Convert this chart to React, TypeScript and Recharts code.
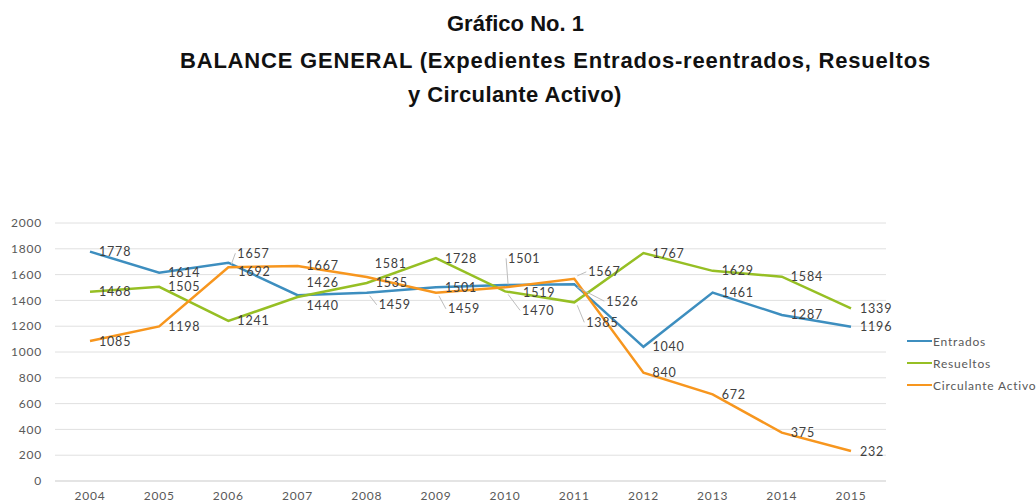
import { LineChart, Line, XAxis, YAxis, CartesianGrid, LabelList } from "recharts";

const years = ["2004", "2005", "2006", "2007", "2008", "2009", "2010", "2011", "2012", "2013", "2014", "2015"];
const entrados = [1778, 1614, 1692, 1440, 1459, 1501, 1519, 1526, 1040, 1461, 1287, 1196];
const resueltos = [1468, 1505, 1241, 1426, 1535, 1728, 1470, 1385, 1767, 1629, 1584, 1339];
const circulante = [1085, 1198, 1657, 1667, 1581, 1459, 1501, 1567, 840, 672, 375, 232];
const yTicks = [0, 200, 400, 600, 800, 1000, 1200, 1400, 1600, 1800, 2000];

const data = years.map((year, i) => ({
  year,
  entrados: entrados[i],
  resueltos: resueltos[i],
  circulante: circulante[i],
}));

// label placement tweaks: index -> [dx, dy, leader line?]
type Offs = Record<number, [number, number, boolean?]>;
const series = [
  {
    key: "entrados",
    name: "Entrados",
    color: "#3d8ebf",
    offs: { 2: [10, 9], 3: [9, 10], 4: [12, 12, true], 6: [18, 7], 7: [32, 17, true] } as Offs,
  },
  {
    key: "resueltos",
    name: "Resueltos",
    color: "#96bf24",
    offs: { 3: [9, -15], 6: [17, 19, true], 7: [12, 20, true] } as Offs,
  },
  {
    key: "circulante",
    name: "Circulante Activo",
    color: "#f7961e",
    offs: { 2: [9, -14, true], 4: [8, -14], 5: [12, 16, true], 6: [3, -29, true], 7: [14, -7, true] } as Offs,
  },
];

const font = "Lato, 'Open Sans', sans-serif";

function makeLabel(offs: Offs) {
  return (props: any) => {
    const { x, y, value, index } = props;
    const [dx, dy, leader] = offs[index] ?? [9, 0, false];
    return (
      <g>
        {leader && (
          <line x1={x + 3} y1={y + Math.sign(dy) * 3} x2={x + dx - 2} y2={y + dy} stroke="#bdbdbd" strokeWidth={1} />
        )}
        <text
          x={x + dx}
          y={y + dy}
          dominantBaseline="central"
          fontSize={12.5}
          fontFamily={font}
          letterSpacing={0.8}
          fill="#404040"
        >
          {value}
        </text>
      </g>
    );
  };
}

const titleStyle: React.CSSProperties = {
  position: "absolute",
  fontFamily: "'Liberation Sans', Arial, sans-serif",
  fontWeight: "bold",
  fontSize: 22,
  color: "#111",
  whiteSpace: "nowrap",
  lineHeight: 1,
};

export default function App() {
  return (
    <div style={{ position: "absolute", left: 0, top: 0, width: 1036, height: 502, background: "#fff", overflow: "hidden" }}>
      <div style={{ ...titleStyle, left: 447, top: 13 }}>Gráfico No. 1</div>
      <div style={{ ...titleStyle, left: 180, top: 50, letterSpacing: 0.8 }}>
        BALANCE GENERAL (Expedientes Entrados-reentrados, Resueltos
      </div>
      <div style={{ ...titleStyle, left: 408, top: 84, letterSpacing: 0.4 }}>y Circulante Activo)</div>

      <div style={{ position: "absolute", left: 0, top: 0 }}>
        <LineChart width={1036} height={502} data={data} margin={{ top: 223, right: 150, bottom: 0, left: 0 }}>
          <CartesianGrid vertical={false} stroke="#e0e0e0" />
          <XAxis
            dataKey="year"
            height={21}
            padding={{ left: 35, right: 35 }}
            axisLine={{ stroke: "#d9d9d9" }}
            tickLine={false}
            tick={{ fontSize: 12, fill: "#595959", fontFamily: font, letterSpacing: 0.8 }}
            tickMargin={4}
            interval={0}
          />
          <YAxis
            width={55}
            domain={[0, 2000]}
            ticks={yTicks}
            axisLine={false}
            tickLine={false}
            tickMargin={7}
            tick={{ fontSize: 12, fill: "#595959", fontFamily: font, letterSpacing: 0.8 }}
          />
          {series.map((s) => (
            <Line
              key={s.key}
              dataKey={s.key}
              name={s.name}
              stroke={s.color}
              strokeWidth={2.5}
              dot={false}
              isAnimationActive={false}
            >
              <LabelList dataKey={s.key} content={makeLabel(s.offs)} />
            </Line>
          ))}
        </LineChart>
      </div>

      <div style={{ position: "absolute", left: 907, top: 330, fontFamily: font, fontSize: 12, color: "#595959", letterSpacing: 0.8 }}>
        {series.map((s) => (
          <div key={s.key} style={{ display: "flex", alignItems: "center", height: 22, whiteSpace: "nowrap" }}>
            <span style={{ display: "inline-block", width: 25, height: 2.5, background: s.color, marginRight: 1 }} />
            {s.name}
          </div>
        ))}
      </div>
    </div>
  );
}
